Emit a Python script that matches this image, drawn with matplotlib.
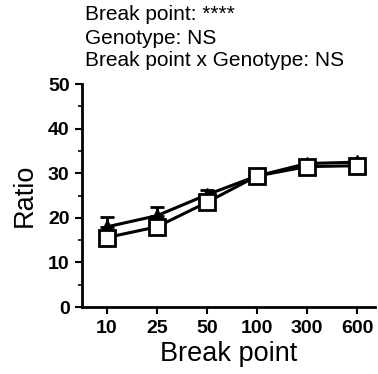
import numpy as np
import matplotlib.pyplot as plt
from matplotlib.ticker import MultipleLocator

plt.rcParams['font.family'] = ['Liberation Sans', 'DejaVu Sans']

# data
break_points = ['10', '25', '50', '100', '300', '600']
tri_mean = [18.0, 20.5, 25.2, 29.4, 32.2, 32.5]
tri_err = [2.2, 1.9, 1.1, 0.8, 0.6, 0.6]
sq_mean = [15.6, 18.0, 23.5, 29.4, 31.5, 31.7]
sq_err = [0.9, 0.9, 0.9, 0.7, 0.6, 0.6]
stats_lines = ['Break point: ****', 'Genotype: NS', 'Break point x Genotype: NS']

x = np.arange(len(break_points))

fig = plt.figure(figsize=(3.78, 3.74), dpi=100)
ax = fig.add_axes([0.217, 0.179, 0.775, 0.596])

ax.errorbar(x, tri_mean, yerr=[np.zeros(len(x)), tri_err], color='black', lw=2.2,
            marker='^', ms=10, mfc='black', mec='black', capsize=5, capthick=2,
            elinewidth=2, zorder=3)
ax.errorbar(x, sq_mean, yerr=[np.zeros(len(x)), sq_err], color='black', lw=2.2,
            marker='s', ms=11, mfc='white', mec='black', mew=2, capsize=5,
            capthick=2, elinewidth=2, zorder=4)

ax.set_xlim(-0.5, 5.36)
ax.set_ylim(0, 50)
ax.set_xticks(x)
ax.set_xticklabels(break_points)
ax.yaxis.set_major_locator(MultipleLocator(10))
ax.yaxis.set_minor_locator(MultipleLocator(5))

for s in ['top', 'right']:
    ax.spines[s].set_visible(False)
for s in ['left', 'bottom']:
    ax.spines[s].set_linewidth(2)

ax.tick_params(axis='both', which='major', width=1.5, length=5, labelsize=14, pad=4)
ax.tick_params(axis='y', which='minor', width=1.2, length=3)
for lab in ax.get_xticklabels() + ax.get_yticklabels():
    lab.set_fontweight('bold')

ax.set_xlabel('Break point', fontsize=19.5, labelpad=3)
ax.set_ylabel('Ratio', fontsize=19.5, labelpad=7)

for i, line in enumerate(stats_lines):
    fig.text(85 / 378, 1 - (15 + 23 * i) / 374, line, fontsize=15, va='center', ha='left')

fig.savefig('out.png', dpi=100)
